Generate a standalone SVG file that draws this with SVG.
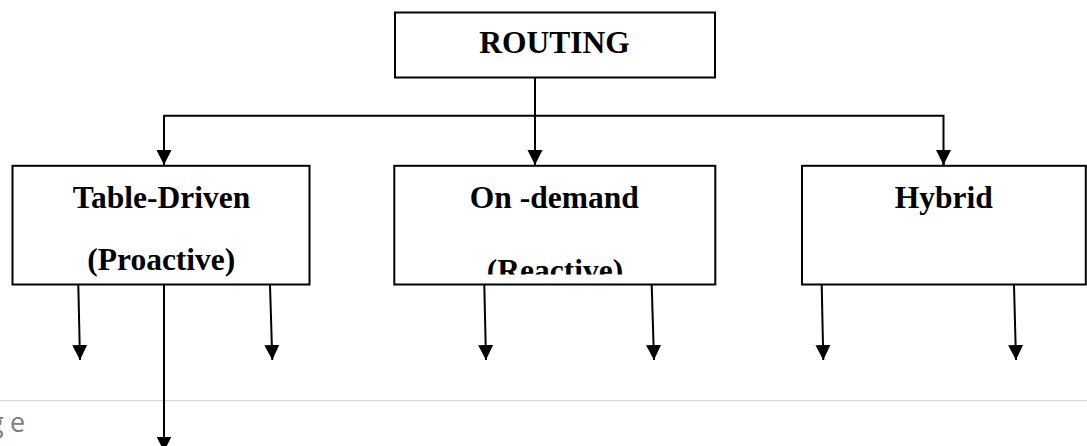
<svg xmlns="http://www.w3.org/2000/svg" width="1087" height="446" viewBox="0 0 1087 446">
<style>
.box{fill:#fff;stroke:#000;stroke-width:2}
.lbl{font-family:"Liberation Serif","Times New Roman",serif;font-weight:bold;font-size:31.5px;fill:#000;text-anchor:middle}
.con{fill:none;stroke:#000;stroke-width:2}
</style>
<defs>
<marker id="ah" markerUnits="userSpaceOnUse" markerWidth="17" markerHeight="17" refX="15" refY="8" orient="auto">
<path d="M0,0.5 L15,8 L0,15.5 z" fill="#000"/>
</marker>
<clipPath id="clipR"><rect x="395" y="166" width="320" height="108.5"/></clipPath>
</defs>
<rect width="1087" height="446" fill="#fff"/>
<g id="footer">
<line x1="0" y1="400.7" x2="1087" y2="400.7" stroke="#d9d9d9" stroke-width="1.3"/>
<text x="-11" y="432" font-family="'Open Sans',sans-serif" font-size="27" fill="#808080" letter-spacing="6.4">ge</text>
</g>
<g id="routing">
<rect class="box" x="395" y="12.5" width="320" height="65"/>
<text class="lbl" x="554.5" y="53.3">ROUTING</text>
</g>
<g id="table-driven">
<rect class="box" x="12.5" y="165.8" width="297" height="118.7"/>
<text class="lbl" x="161.5" y="208">Table-Driven</text>
<text class="lbl" x="161.3" y="270">(Proactive)</text>
</g>
<g id="on-demand">
<rect class="box" x="394.3" y="165.8" width="321" height="118.7"/>
<text class="lbl" x="554.3" y="208">On -demand</text>
<text class="lbl" x="555" y="280.5" clip-path="url(#clipR)">(Reactive)</text>
</g>
<g id="hybrid">
<rect class="box" x="802" y="165.8" width="283.8" height="118.7"/>
<text class="lbl" x="943.8" y="208">Hybrid</text>
</g>
<g id="connectors">
<line class="con" x1="535" y1="78" x2="535" y2="165" marker-end="url(#ah)"/>
<polyline class="con" points="164,165 164,115.7 943.5,115.7 943.5,165"/>
<line class="con" x1="164" y1="150" x2="164" y2="165" marker-end="url(#ah)"/>
<line class="con" x1="943.5" y1="150" x2="943.5" y2="165" marker-end="url(#ah)"/>
<line class="con" x1="78.3" y1="285" x2="80" y2="360" marker-end="url(#ah)"/>
<line class="con" x1="164" y1="285" x2="164" y2="451.5" marker-end="url(#ah)"/>
<line class="con" x1="270" y1="285" x2="272.3" y2="360" marker-end="url(#ah)"/>
<line class="con" x1="484.3" y1="285" x2="486" y2="360" marker-end="url(#ah)"/>
<line class="con" x1="651.7" y1="285" x2="654" y2="360" marker-end="url(#ah)"/>
<line class="con" x1="821.7" y1="285" x2="823.3" y2="360" marker-end="url(#ah)"/>
<line class="con" x1="1014" y1="285" x2="1016" y2="360" marker-end="url(#ah)"/>
</g>
</svg>
